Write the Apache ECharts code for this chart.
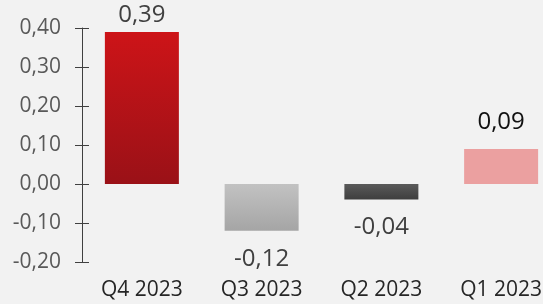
<!DOCTYPE html>
<html>
<head>
<meta charset="utf-8">
<script src="https://cdn.jsdelivr.net/npm/echarts@6/dist/echarts.min.js"></script>
<style>
  html, body { margin: 0; padding: 0; background: #f2f2f2; }
  #chart { width: 543px; height: 304px; }
</style>
</head>
<body>
<div id="chart"></div>
<script>
var quarters = ['Q4 2023', 'Q3 2023', 'Q2 2023', 'Q1 2023'];
var values = [0.39, -0.12, -0.04, 0.09];

var chart = echarts.init(document.getElementById('chart'));

function fmt(v) {
    return v.toFixed(2).replace('.', ',');
}

// colours per bar: gradient top -> bottom
var barColors = [
    ['#cd1418', '#9a1117'],
    ['#c2c2c2', '#a5a5a5'],
    ['#5a5a5a', '#3e3e3e'],
    ['#eba0a0', '#eba0a0']
];
var labelDist = [5, 16, 16, 15];
var labelColor = ['#404040', '#404040', '#404040', '#111111'];

var seriesData = values.map(function (v, i) {
    return {
        value: v,
        itemStyle: {
            color: new echarts.graphic.LinearGradient(0, 0, 0, 1, [
                { offset: 0, color: barColors[i][0] },
                { offset: 1, color: barColors[i][1] }
            ])
        },
        label: {
            position: v >= 0 ? 'top' : 'bottom',
            distance: labelDist[i],
            color: labelColor[i]
        }
    };
});

var font = '"Open Sans", "Liberation Sans", sans-serif';

var option = {
    backgroundColor: '#f2f2f2',
    animation: false,
    grid: { left: 82, top: 28, bottom: 42, right: -18, outerBoundsMode: 'none', containLabel: false },
    xAxis: {
        type: 'category',
        data: quarters,
        position: 'bottom',
        axisLine: { show: false },
        axisTick: { show: false },
        axisLabel: {
            margin: 18,
            fontSize: 21,
            fontFamily: font,
            color: '#262626'
        }
    },
    yAxis: [{
        type: 'value',
        min: -0.2,
        max: 0.4,
        interval: 0.1,
        splitLine: { show: false },
        axisLine: { show: true, lineStyle: { color: '#404040', width: 1 } },
        axisTick: { show: true, length: 7, lineStyle: { color: '#404040' } },
        axisLabel: {
            margin: 21,
            fontSize: 21,
            fontFamily: font,
            color: '#595959',
            formatter: fmt
        }
    }, {
        type: 'value',
        position: 'left',
        min: -0.2,
        max: 0.4,
        interval: 0.1,
        splitLine: { show: false },
        axisLine: { show: false },
        axisTick: { show: true, inside: true, length: 7, lineStyle: { color: '#404040' } },
        axisLabel: { show: false }
    }],
    series: [{
        type: 'bar',
        data: seriesData,
        barWidth: 74,
        label: {
            show: true,
            fontSize: 24,
            fontFamily: font,
            formatter: function (p) { return fmt(p.value); }
        }
    }]
};

chart.setOption(option);
</script>
</body>
</html>
